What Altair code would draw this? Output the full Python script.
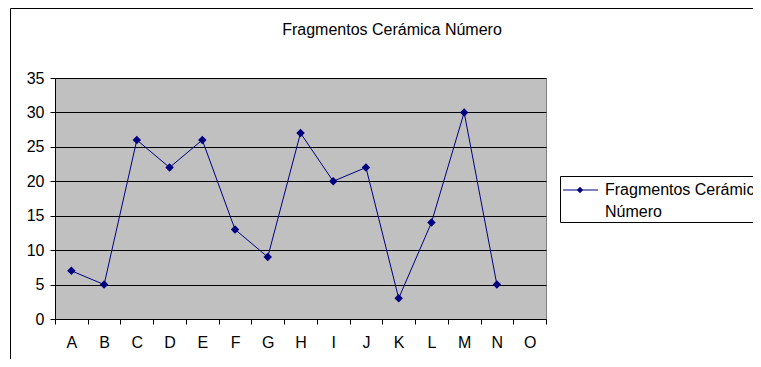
import altair as alt
import pandas as pd

categories = ["A", "B", "C", "D", "E", "F", "G", "H", "I", "J", "K", "L", "M", "N", "O"]
values = [7, 5, 26, 22, 26, 13, 9, 27, 20, 22, 3, 14, 30, 5, None]
series_name = "Fragmentos Cerámica Número"
legend_lines = ["Fragmentos Cerámica", "Número"]

df = pd.DataFrame({"cat": categories, "val": values})
pts = df.dropna()

FONT = "Liberation Sans"
NAVY = "#000080"

x = alt.X("cat:N", scale=alt.Scale(domain=categories, paddingInner=0, paddingOuter=0),
          axis=alt.Axis(title=None, labelAngle=0, tickBand="extent", tickSize=5,
                        labelPadding=10, labelFont=FONT, labelFontSize=16,
                        labelColor="black", tickColor="black", domainColor="black",
                        grid=False))
y = alt.Y("val:Q", scale=alt.Scale(domain=[0, 35], nice=False),
          axis=alt.Axis(title=None, values=list(range(0, 40, 5)), tickSize=5,
                        labelPadding=6, labelFont=FONT, labelFontSize=16,
                        labelColor="black", tickColor="black", domainColor="black",
                        grid=True, gridColor="black", gridOpacity=1))

line = alt.Chart(pts).mark_line(color=NAVY, strokeWidth=1).encode(x=x, y=y)
points = alt.Chart(pts).mark_point(shape="diamond", filled=True, color=NAVY,
                                   size=72, opacity=1).encode(x=x, y=y)

one = pd.DataFrame({"k": [0]})


def hrule(x1, x2, yv):
    return alt.Chart(one).mark_rule(color="black", strokeWidth=1).encode(
        x=alt.value(x1), x2=alt.value(x2), y=alt.value(yv))


def vrule(xv, y1, y2):
    return alt.Chart(one).mark_rule(color="black", strokeWidth=1).encode(
        x=alt.value(xv), y=alt.value(y1), y2=alt.value(y2))


# outer chart border (right and bottom edges lie outside the window)
border_top = hrule(-44.5, 698, -69.5)
border_left = vrule(-44.5, -69.5, 281)

# title
title_df = pd.DataFrame({"t": [series_name]})
title = alt.Chart(title_df).mark_text(
    align="center", baseline="middle", font=FONT, fontSize=16, color="black"
).encode(x=alt.value(337), y=alt.value(-48), text="t:N")

# legend
leg_top = hrule(505.5, 698, 98.5)
leg_bottom = hrule(505.5, 698, 144.5)
leg_left = vrule(505.5, 98.5, 144.5)
leg_line = alt.Chart(one).mark_rule(color=NAVY, strokeWidth=1).encode(
    x=alt.value(508), x2=alt.value(543), y=alt.value(112))
leg_pt = alt.Chart(one).mark_point(
    shape="diamond", filled=True, color=NAVY, size=40, opacity=1
).encode(x=alt.value(525), y=alt.value(112))
leg_df = pd.DataFrame({"t": legend_lines, "row": [0, 1]})
leg_text = alt.Chart(leg_df).transform_calculate(yy="112 + 22 * datum.row").mark_text(
    align="left", baseline="middle", font=FONT, fontSize=16, color="black"
).encode(x=alt.value(550), y=alt.Y("yy:Q", scale=None, axis=None), text="t:N")

chart = alt.layer(border_top, border_left, title, line, points,
                  leg_top, leg_bottom, leg_left, leg_line, leg_pt, leg_text).properties(
    width=491, height=241,
    autosize=alt.AutoSizeParams(type="none"),
    padding={"left": 47, "top": 70, "right": 207, "bottom": 40},
    background="white",
).configure_view(fill="#C0C0C0", stroke="#808080", strokeWidth=1)

chart.save("out.html", embed_options={"renderer": "svg", "actions": False})
